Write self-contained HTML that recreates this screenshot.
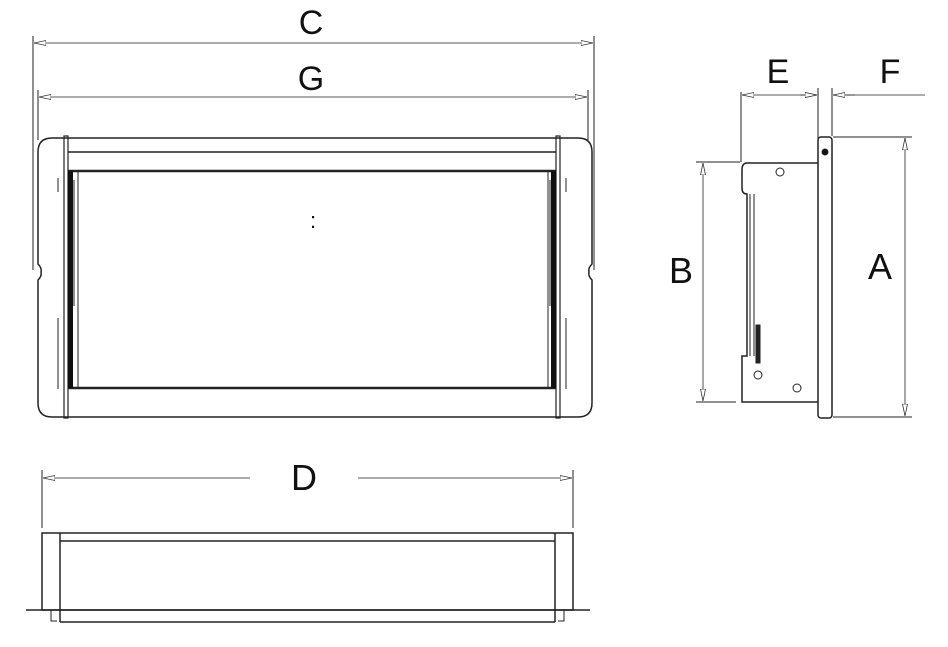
<!DOCTYPE html>
<html><head><meta charset="utf-8"><style>html,body{margin:0;padding:0;background:#fff}svg{display:block}text{font-family:"Liberation Sans",sans-serif;fill:#111}</style></head><body>
<svg width="948" height="647" viewBox="0 0 948 647" xmlns="http://www.w3.org/2000/svg">
<defs>
<marker id="a" viewBox="0 0 12 6" refX="12" refY="3" markerWidth="12" markerHeight="6" orient="auto-start-reverse" markerUnits="userSpaceOnUse"><path d="M0,0.5 L12,3 L0,5.5 Z" fill="#fff" stroke="#333" stroke-width="0.8"/></marker>
</defs>
<g stroke="#222" fill="none" stroke-width="1">
<!-- C, G dims -->
<line x1="33" y1="36" x2="33" y2="270"/><line x1="594" y1="36" x2="594" y2="270"/>
<line x1="34" y1="43" x2="593" y2="43" marker-start="url(#a)" marker-end="url(#a)" stroke-width="0.8"/>
<line x1="38" y1="90" x2="38" y2="140"/><line x1="588" y1="90" x2="588" y2="140"/>
<line x1="39" y1="97" x2="587" y2="97" marker-start="url(#a)" marker-end="url(#a)" stroke-width="0.8"/>
<!-- front view -->
<path d="M52,138 H578 Q592,138 592,152 V264 Q588,268 589,272 Q588,276 592,280 V403 Q592,417 578,417 H52 Q38,417 38,403 V280 Q42,276 41,272 Q42,268 38,264 V152 Q38,138 52,138 Z" stroke-width="1.5"/>
<rect x="64" y="136" width="4" height="282" stroke-width="1.2"/>
<rect x="556" y="136" width="4" height="282" stroke-width="1.2"/>
<line x1="68" y1="152" x2="556" y2="152" stroke-width="1.5"/>
<line x1="68" y1="171" x2="556" y2="171" stroke-width="2.5"/>
<line x1="68" y1="388" x2="556" y2="388" stroke-width="2.5"/>
<line x1="78" y1="171" x2="78" y2="388"/><line x1="548" y1="171" x2="548" y2="388"/>
<rect x="68" y="171" width="5" height="217" fill="#111" stroke="none"/>
<rect x="551" y="171" width="5" height="217" fill="#111" stroke="none"/>
<line x1="74" y1="180" x2="74" y2="306"/><line x1="550" y1="180" x2="550" y2="306"/>
<line x1="58" y1="318" x2="58" y2="389"/><line x1="566" y1="318" x2="566" y2="389"/>
<line x1="58" y1="178" x2="58" y2="192"/><line x1="566" y1="178" x2="566" y2="192"/>
<!-- side view -->
<line x1="741" y1="92" x2="741" y2="162"/><line x1="818" y1="88" x2="818" y2="170"/><line x1="832" y1="88" x2="832" y2="136"/>
<line x1="742" y1="95" x2="817" y2="95" marker-start="url(#a)" marker-end="url(#a)" stroke-width="0.8"/>
<line x1="800" y1="95" x2="817" y2="95" marker-end="url(#a)" stroke-width="0.8"/>
<line x1="833" y1="95" x2="925" y2="95" stroke-width="0.8"/>
<line x1="833" y1="95" x2="855" y2="95" marker-start="url(#a)" stroke-width="0.8"/>
<rect x="818" y="137" width="14" height="281" rx="3" stroke-width="1.5"/>
<circle cx="825" cy="152" r="3" fill="#111"/>
<path d="M818,163 H747 Q742,163 742,170 V188 Q742,194 747,194 V356 H742 V402 H818" stroke-width="1.5"/>
<line x1="750" y1="194" x2="750" y2="356"/><line x1="754" y1="194" x2="754" y2="356"/>
<rect x="756" y="325" width="4" height="38" fill="#222"/>
<circle cx="780" cy="172" r="4"/><circle cx="758" cy="375" r="4"/><circle cx="797" cy="388" r="4"/>
<line x1="833" y1="137" x2="912" y2="137"/><line x1="833" y1="417" x2="912" y2="417"/>
<line x1="905" y1="138" x2="905" y2="416" marker-start="url(#a)" marker-end="url(#a)" stroke-width="0.8"/>
<line x1="696" y1="162" x2="740" y2="162"/><line x1="696" y1="402" x2="736" y2="402"/>
<line x1="703" y1="163" x2="703" y2="401" marker-start="url(#a)" marker-end="url(#a)" stroke-width="0.8"/>
<!-- bottom view -->
<line x1="42" y1="470" x2="42" y2="528"/><line x1="573" y1="470" x2="573" y2="528"/>
<line x1="43" y1="478" x2="250" y2="478" marker-start="url(#a)" stroke-width="0.8"/>
<line x1="358" y1="478" x2="572" y2="478" marker-end="url(#a)" stroke-width="0.8"/>
<rect x="42" y="533" width="531" height="77" stroke-width="1.5"/>
<line x1="60" y1="533" x2="60" y2="622" stroke-width="1.5"/><line x1="555" y1="533" x2="555" y2="622" stroke-width="1.5"/>
<line x1="60" y1="541" x2="555" y2="541" stroke-width="1.5"/>
<line x1="26" y1="610" x2="590" y2="610" stroke-width="1.5"/>
<line x1="60" y1="622" x2="555" y2="622" stroke-width="1.5"/>
<path d="M51,610 V621 H57 M564,610 V621 H558"/>
</g>
<text x="311" y="34" font-size="34" text-anchor="middle">C</text>
<text x="311" y="90" font-size="34" text-anchor="middle">G</text>
<text x="313" y="228" font-size="22" text-anchor="middle">:</text>
<text x="778" y="83" font-size="34" text-anchor="middle">E</text>
<text x="890" y="83" font-size="34" text-anchor="middle">F</text>
<text x="880" y="279" font-size="36" text-anchor="middle">A</text>
<text x="681" y="283" font-size="36" text-anchor="middle">B</text>
<text x="304" y="490" font-size="36" text-anchor="middle">D</text>
</svg>
</body></html>
